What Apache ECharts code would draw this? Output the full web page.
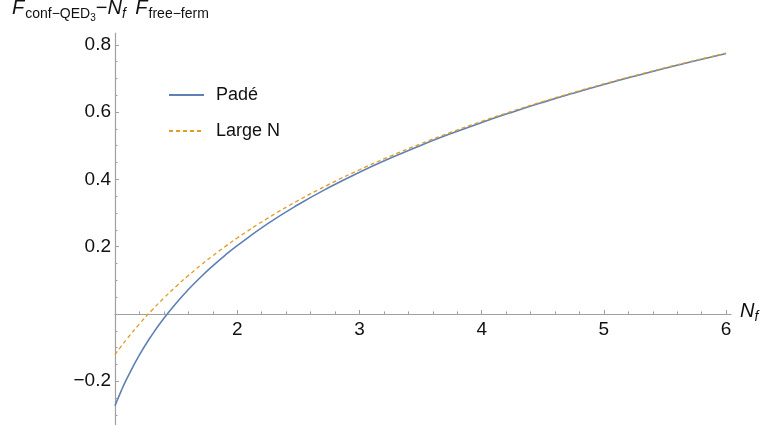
<!DOCTYPE html>
<html><head><meta charset="utf-8">
<script src="https://cdn.jsdelivr.net/npm/echarts@6/dist/echarts.min.js"></script>
<style>html,body{margin:0;padding:0;background:#fff}#c{width:770px;height:425px}</style>
</head><body><div id="c"></div>
<script>
const nVals      = [1, 1.05, 1.1, 1.2, 1.3, 1.4, 1.5, 1.6, 1.7, 1.8, 1.9, 2, 2.25, 2.5, 2.75, 3, 3.25, 3.5, 3.75, 4, 4.25, 4.5, 4.75, 5, 5.25, 5.5, 5.75, 6];
const padeVals   = [-0.2728, -0.2293, -0.1901, -0.1217, -0.0635, -0.0129, 0.0321, 0.0725, 0.1092, 0.1429, 0.1741, 0.2032, 0.2684, 0.3252, 0.3756, 0.4211, 0.4626, 0.5008, 0.5361, 0.5690, 0.5998, 0.6288, 0.6562, 0.6821, 0.7067, 0.7302, 0.7526, 0.7740];
const largeNVals = [-0.1208, -0.0964, -0.0731, -0.0296, 0.0104, 0.0474, 0.0819, 0.1142, 0.1445, 0.1731, 0.2001, 0.2258, 0.2847, 0.3374, 0.3850, 0.4285, 0.4685, 0.5056, 0.5401, 0.5724, 0.6027, 0.6312, 0.6583, 0.6839, 0.7083, 0.7316, 0.7538, 0.7751];
const xMajorTicks = [2, 3, 4, 5, 6];
const xMinorTicks = [1.2, 1.4, 1.6, 1.8, 2.2, 2.4, 2.6, 2.8, 3.2, 3.4, 3.6, 3.8, 4.2, 4.4, 4.6, 4.8, 5.2, 5.4, 5.6, 5.8];
const yMajorTicks = [-0.2, 0.2, 0.4, 0.6, 0.8];
const yMinorTicks = [-0.3, -0.25, -0.15, -0.1, -0.05, 0.05, 0.1, 0.15, 0.25, 0.3, 0.35, 0.45, 0.5, 0.55, 0.65, 0.7, 0.75];
const seriesNames = ['Padé', 'Large N'];

const FONT = '"Liberation Sans", Arial, Helvetica, sans-serif';
const AX = '#a0a0a0';
const TXT = '#111';
const chart = echarts.init(document.getElementById('c'), null, {renderer: 'canvas'});

const xBase = {type: 'value', min: 1, max: 6.04, position: 'bottom', splitLine: {show: false}};
const yBase = {type: 'value', min: -0.33, max: 0.835, position: 'left', splitLine: {show: false}};
const rs = (o) => Object.assign({fontFamily: FONT, color: TXT, fontWeight: 'normal', verticalAlign: 'bottom'}, o);

chart.setOption({
  animation: false,
  backgroundColor: '#fff',
  grid: {left: 115, right: 39, top: 33, bottom: 0, outerBoundsMode: 'none', containLabel: false},
  title: {
    left: 12, top: 3, padding: 0,
    text: '{F|F}{s|conf\u2212QED}{ss|3}{m|\u2212}{F|N}{fs|f}{sp| }{F|F}{s|free\u2212ferm}',
    textStyle: {
      fontWeight: 'normal',
      rich: {
        F:  rs({fontSize: 20, fontStyle: 'italic', lineHeight: 20, padding: [0, 0, 4.5, 0]}),
        m:  rs({fontSize: 20, lineHeight: 20, padding: [0, 0, 4.5, 0]}),
        s:  rs({fontSize: 14, lineHeight: 14, padding: [0, 0, 2, 1]}),
        fs: rs({fontSize: 14, fontStyle: 'italic', lineHeight: 14, padding: [0, 0, 2, 0]}),
        ss: rs({fontSize: 10, lineHeight: 10, padding: [0, 0, 0, 0]}),
        sp: rs({fontSize: 20, lineHeight: 20, padding: [0, 4, 4.5, 0]})
      }
    }
  },
  legend: {
    orient: 'vertical', left: 168, top: 86, padding: 0,
    itemWidth: 35, itemHeight: 18, itemGap: 18,
    data: seriesNames,
    itemStyle: {opacity: 0, borderWidth: 0},
    textStyle: {fontFamily: FONT, fontSize: 18, color: TXT, padding: [0, 0, 0, 7]}
  },
  xAxis: [
    Object.assign({}, xBase, {
      axisLine: {show: true, onZero: false, lineStyle: {color: AX, width: 1.2}},
      axisTick: {show: true, inside: true, length: 4, customValues: xMajorTicks, lineStyle: {color: AX, width: 1}},
      axisLabel: {show: true, customValues: xMajorTicks, fontFamily: FONT, fontSize: 19, color: TXT, margin: 6},
      name: '{N|N}{f|f}', nameLocation: 'end', nameGap: 9,
      nameTextStyle: {
        rich: {
          N: rs({fontSize: 20, fontStyle: 'italic', lineHeight: 20, padding: [0, 0, 3, 0]}),
          f: rs({fontSize: 14, fontStyle: 'italic', lineHeight: 14})
        }
      }
    }),
    Object.assign({}, xBase, {
      axisLine: {show: false, onZero: false},
      axisTick: {show: true, inside: true, length: 2.5, customValues: xMinorTicks, lineStyle: {color: AX, width: 1}},
      axisLabel: {show: false}
    })
  ],
  yAxis: [
    Object.assign({}, yBase, {
      axisLine: {show: true, onZero: false, lineStyle: {color: AX, width: 1.2}},
      axisTick: {show: true, inside: true, length: 4, customValues: yMajorTicks, lineStyle: {color: AX, width: 1}},
      axisLabel: {show: true, customValues: yMajorTicks, fontFamily: FONT, fontSize: 19, color: TXT, margin: 4,
        formatter: v => Number(v).toFixed(1).replace('-', '\u2212')}
    }),
    Object.assign({}, yBase, {
      axisLine: {show: false, onZero: false},
      axisTick: {show: true, inside: true, length: 2.5, customValues: yMinorTicks, lineStyle: {color: AX, width: 1}},
      axisLabel: {show: false}
    })
  ],
  series: [
    {
      name: seriesNames[0], type: 'line', xAxisIndex: 0, yAxisIndex: 0,
      data: nVals.map((n, i) => [n, padeVals[i]]),
      symbol: 'none', showSymbol: false, smooth: true, z: 2,
      lineStyle: {color: '#5E81B5', width: 1.6},
      itemStyle: {color: '#5E81B5'}
    },
    {
      name: seriesNames[1], type: 'line', xAxisIndex: 0, yAxisIndex: 0,
      data: nVals.map((n, i) => [n, largeNVals[i]]),
      symbol: 'none', showSymbol: false, smooth: true, z: 3,
      lineStyle: {color: '#E19C24', width: 1.3, type: [4, 3]},
      itemStyle: {color: '#E19C24'}
    }
  ]
});

// Move the x axis onto y = 0 using the library's own y scale.
const zeroY = chart.convertToPixel({yAxisIndex: 0}, 0);
const bottomY = chart.convertToPixel({yAxisIndex: 0}, yBase.min);
const off = zeroY - bottomY;
chart.setOption({xAxis: [{offset: off}, {offset: off}]});
</script></body></html>
